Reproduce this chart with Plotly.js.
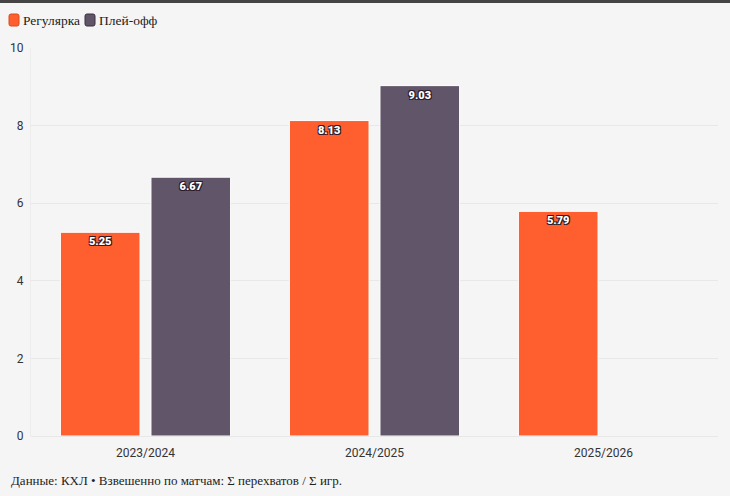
<!DOCTYPE html>
<html>
<head>
<meta charset="utf-8">
<script src="https://cdn.plot.ly/plotly-3.0.1.min.js"></script>
<style>
html,body{margin:0;padding:0;background:#f5f5f5;}
#wrap{position:relative;width:730px;height:496px;}
#chart{width:730px;height:496px;}
#topline{position:absolute;left:0;top:0;width:730px;height:3px;background:#444;z-index:10;}
</style>
</head>
<body>
<div id="wrap"><div id="topline"></div><div id="chart"></div></div>
<script>
const seasons = ["2023/2024", "2024/2025", "2025/2026"];
const regular = [5.25, 8.13, 5.79];
const playoff = [6.67, 9.03, null];
const seriesNames = ["Регулярка", "Плей-офф"];
const seriesColors = ["#FF5F2E", "#605569"];
const yTicks = [0, 2, 4, 6, 8, 10];
const footer = "Данные: КХЛ • Взвешенно по матчам: Σ перехватов / Σ игр.";

const labelFont = {family: "Roboto, sans-serif", size: 11, color: "#ffffff", weight: 900,
  shadow: "1px 1px 0 #2a1a2a, -1px -1px 0 #2a1a2a, 1px -1px 0 #2a1a2a, -1px 1px 0 #2a1a2a"};

const traces = [
  {type: "bar", name: seriesNames[0], x: seasons, y: regular,
   marker: {color: seriesColors[0], line: {color: "#ffffff", width: 1}},
   texttemplate: "%{y:.2f}", textposition: "inside", insidetextanchor: "end",
   textfont: labelFont, hoverinfo: "skip"},
  {type: "bar", name: seriesNames[1], x: seasons, y: playoff,
   marker: {color: seriesColors[1], line: {color: "#ffffff", width: 1}},
   texttemplate: "%{y:.2f}", textposition: "inside", insidetextanchor: "end",
   textfont: labelFont, hoverinfo: "skip"}
];

function roundRect(x0, y0, x1, y1, r) {
  return `M${x0 + r},${y0} L${x1 - r},${y0} Q${x1},${y0} ${x1},${y0 + r} L${x1},${y1 - r} Q${x1},${y1} ${x1 - r},${y1} L${x0 + r},${y1} Q${x0},${y1} ${x0},${y1 - r} L${x0},${y0 + r} Q${x0},${y0} ${x0 + r},${y0} Z`;
}
// legend built manually (plot area: left 31px, top 48px)
const legendItems = [{px: 9, tx: 21}, {px: 85, tx: 97}];
const shapes = legendItems.map((it, i) => ({
  type: "path", xref: "paper", yref: "paper", xsizemode: "pixel", ysizemode: "pixel",
  xanchor: 0, yanchor: 1,
  path: roundRect(it.px - 31, 48 - 26, it.px - 31 + 10, 48 - 14, 2),
  fillcolor: seriesColors[i], line: {color: i === 0 ? "#d94a1e" : "#3a3040", width: 1}
}));
const legendAnns = legendItems.map((it, i) => ({
  xref: "paper", yref: "paper", x: (it.tx - 31) / 687, y: 1 + (48 - 20) / 388,
  xanchor: "left", yanchor: "middle", showarrow: false, text: seriesNames[i],
  font: {family: "Liberation Serif, serif", size: 13.5, color: "#222"}
}));

const layout = {
  width: 730, height: 496,
  paper_bgcolor: "#f5f5f5", plot_bgcolor: "#f5f5f5",
  margin: {l: 31, r: 12, t: 48, b: 60},
  barmode: "group", bargap: 0.209, bargroupgap: 0.121,
  showlegend: false,
  xaxis: {type: "category", showgrid: false, zeroline: false, showline: false,
    ticks: "", ticklabelstandoff: 8,
    tickfont: {family: "Roboto, sans-serif", size: 12, color: "#333"}},
  yaxis: {range: [0, 10], tickvals: yTicks, showgrid: true, gridcolor: "#e8e8e8", gridwidth: 1,
    zeroline: true, zerolinecolor: "#e8e8e8", showline: true, linecolor: "#ececec", ticks: "",
    ticklabelstandoff: 4,
    tickfont: {family: "Roboto, sans-serif", size: 12, color: "#333"}},
  shapes: shapes,
  annotations: legendAnns.concat([{xref: "paper", yref: "paper", x: (9 - 31) / 687, y: -(480 - 436) / 388,
    xanchor: "left", yanchor: "middle",
    showarrow: false, text: footer, font: {family: "Liberation Serif, serif", size: 13, color: "#222"}}])
};

Plotly.newPlot("chart", traces, layout, {displayModeBar: false, staticPlot: true});
</script>
</body>
</html>
